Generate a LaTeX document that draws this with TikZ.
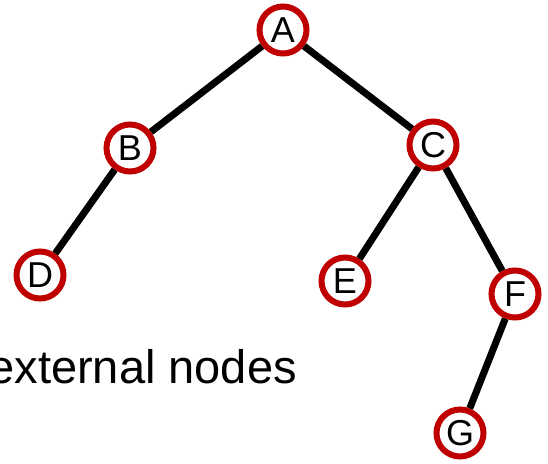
\documentclass[tikz,border=0pt]{standalone}
\usepackage{fontspec}
\setmainfont{Liberation Sans}
\definecolor{ring}{HTML}{C00000}
\tikzset{
  vert/.style={circle, draw=ring, fill=white, line width=6pt, minimum size=47pt,
    inner sep=0pt, font=\fontsize{36}{36}\selectfont},
  edge/.style={draw=black, line width=7pt},
  lab/.style={font=\fontsize{47}{47}\selectfont, inner sep=0pt},
}
\begin{document}
\begin{tikzpicture}[x=1pt,y=-1pt]
  \useasboundingbox (0,0) rectangle (548,463);

  % tree vertices
  \node[vert] (A) at (283,30) {A};
  \node[vert] (B) at (130,148) {B};
  \node[vert] (C) at (433,145) {C};
  \node[vert] (D) at (40,275) {D};
  \node[vert] (E) at (345,281) {E};
  \node[vert] (F) at (515,294) {F};
  \node[vert] (G) at (460,433) {G};

  \draw[edge] (A)--(B);
  \draw[edge] (A)--(C);
  \draw[edge] (B)--(D);
  \draw[edge] (C)--(E);
  \draw[edge] (C)--(F);
  \draw[edge] (F)--(G);

  \node[lab,anchor=base east] (ext) at (297,383) {external nodes};
\end{tikzpicture}
\end{document}
